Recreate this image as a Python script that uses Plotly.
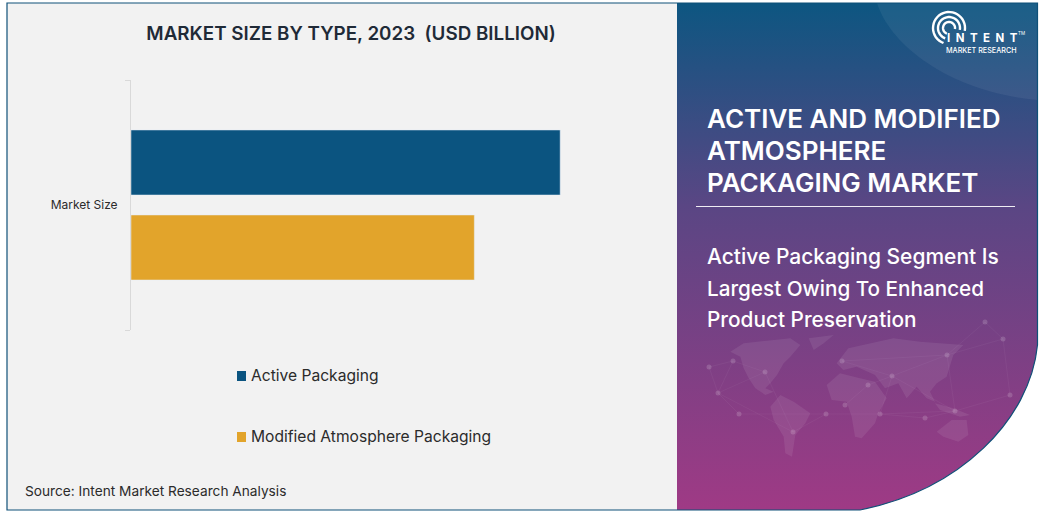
"""Market size by type chart with the Intent Market Research side panel."""

import math
import plotly.graph_objects as go

# data
CATEGORY = ["Market Size"]
TYPES = ["Active Packaging", "Modified Atmosphere Packaging"]
ACTIVE = [10.0]
MODIFIED = [8.0]
COLORS = ["#0B5480", "#E2A42B"]

W, H = 1043, 513
FONT = "Inter"
NAVY = "#0F5078"


def polygon(points):
    return "M" + "L".join(f"{x},{y}" for x, y in points) + "Z"


def zoomed(points, ox, oy):
    # outlines were traced on 3x crops of the panel
    return [(ox + x / 3, oy + y / 3) for x, y in points]


def arc(cx, cy, r, a0, a1):
    steps = 30
    pts = []
    for i in range(steps + 1):
        a = math.radians(a0 + (a1 - a0) * i / steps)
        pts.append(f"{cx + r * math.cos(a):.1f},{cy + r * math.sin(a):.1f}")
    return "M" + "L".join(pts)


def label(x, y, text, size, color="white", weight=400, anchor="left"):
    return dict(xref="x2", yref="y2", x=x, y=y, text=text, showarrow=False,
                xanchor=anchor, yanchor="middle",
                font=dict(family=FONT, size=size, color=color, weight=weight))


fig = go.Figure()
fig.add_trace(go.Bar(y=CATEGORY, x=ACTIVE, name=TYPES[0], orientation="h", marker_color=COLORS[0]))
fig.add_trace(go.Bar(y=CATEGORY, x=MODIFIED, name=TYPES[1], orientation="h", marker_color=COLORS[1]))

# gradient panel, on an overlay axis that counts in pixels
fig.add_trace(go.Scatter(
    x=[677, 1037, 1037, 677, 677], y=[3, 3, 510, 510, 3],
    xaxis="x2", yaxis="y2", mode="lines", line=dict(width=0), fill="toself",
    fillgradient=dict(type="vertical", colorscale=[[0, "#9F3A85"], [0.6, "#5A4684"], [1, "#0D5681"]]),
    hoverinfo="skip",
))

# network behind the map
NODES = [(709, 367), (733, 361), (718, 393), (739, 414), (826, 414), (793, 432), (765, 372),
         (842, 361), (892, 376), (880, 414), (955, 411), (1003, 339), (947, 355), (925, 418),
         (845, 405), (868, 385), (985, 322), (1010, 395)]
EDGES = [(0, 1), (1, 2), (2, 3), (3, 4), (4, 5), (1, 6), (6, 5), (2, 6), (4, 9), (7, 8), (8, 12),
         (12, 11), (8, 9), (9, 10), (10, 13), (12, 10), (7, 12), (14, 15), (15, 8), (9, 13),
         (8, 10), (11, 16), (12, 16), (11, 17), (10, 17), (0, 2), (2, 5)]
edge_x, edge_y = [], []
for a, b in EDGES:
    edge_x += [NODES[a][0], NODES[b][0], None]
    edge_y += [NODES[a][1], NODES[b][1], None]
fig.add_trace(go.Scatter(x=edge_x, y=edge_y, xaxis="x2", yaxis="y2", mode="lines",
                         line=dict(color="rgba(255,255,255,0.08)", width=0.6), hoverinfo="skip"))
fig.add_trace(go.Scatter(x=[n[0] for n in NODES], y=[n[1] for n in NODES], xaxis="x2", yaxis="y2",
                         mode="markers", marker=dict(size=5, color="rgba(255,255,255,0.16)"),
                         hoverinfo="skip"))

shapes = [
    # paper refs so this one stays under the bars
    dict(type="rect", xref="paper", yref="paper", x0=7 / W, x1=677 / W, y0=1 - 510 / H, y1=1 - 3 / H,
         fillcolor="#F2F2F2", line_width=0, layer="below"),
    # pale arc in the top corner
    dict(type="path", xref="x2", yref="y2", path="M877,3C890,45 950,92 1037,100L1037,3Z",
         fillcolor="rgba(255,255,255,0.06)", line_width=0),
    # white corner cut out of the panel
    dict(type="path", xref="x2", yref="y2", path="M1037.5,345C1030,420 960,490 860,510L1043,513L1043,345Z",
         fillcolor="white", line_width=0),
    dict(type="path", xref="x2", yref="y2", path="M1037.5,3L1037.5,345C1030,420 960,490 860,510L7,510L7,3Z",
         line=dict(color=NAVY, width=1.2)),
    dict(type="line", xref="x2", yref="y2", x0=696, x1=1015, y0=206.5, y1=206.5,
         line=dict(color="rgba(255,255,255,0.9)", width=1)),
    # legend swatches
    dict(type="rect", xref="x2", yref="y2", x0=237, x1=246, y0=371, y1=381, fillcolor=COLORS[0], line_width=0),
    dict(type="rect", xref="x2", yref="y2", x0=237, x1=246, y0=432, y1=442, fillcolor=COLORS[1], line_width=0),
]

# world map, rough outlines
LAND = [
    zoomed([(160, 95), (200, 70), (270, 62), (340, 55), (370, 75), (340, 110), (320, 130), (300, 165),
            (280, 190), (265, 205), (290, 215), (265, 225), (235, 205), (215, 175), (200, 145), (190, 110)], 677, 320),
    zoomed([(395, 55), (470, 45), (440, 70), (410, 90)], 677, 320),
    zoomed([(280, 260), (310, 225), (350, 245), (400, 280), (385, 310), (355, 345), (345, 410),
            (325, 400), (320, 350), (290, 300)], 677, 320),
    zoomed([(20, 195), (60, 160), (120, 175), (165, 185), (200, 235), (175, 280), (165, 310),
            (125, 355), (105, 350), (95, 290), (80, 245), (35, 240)], 820, 320),
    zoomed([(50, 130), (85, 85), (220, 55), (300, 65), (430, 75), (400, 105), (380, 170), (350, 190),
            (330, 215), (345, 245), (320, 235), (290, 200), (260, 235), (235, 190), (195, 205),
            (165, 165), (110, 140), (70, 150)], 820, 320),
    zoomed([(350, 335), (395, 300), (440, 300), (445, 345), (415, 365), (370, 350)], 820, 320),
    zoomed([(345, 250), (400, 265), (450, 285), (420, 290), (360, 270)], 820, 320),
]
for outline in LAND:
    shapes.append(dict(type="path", xref="x2", yref="y2", path=polygon(outline),
                       fillcolor="rgba(255,255,255,0.08)", line_width=0))

# logo arcs
for r in (6, 11, 16):
    shapes.append(dict(type="path", xref="x2", yref="y2", path=arc(949, 28, r, 110, 370),
                       line=dict(color="white", width=2.4)))

annotations = [
    label(249, 375, TYPES[0], 15.6, "#2B2B2B"),
    label(249, 436, TYPES[1], 15.6, "#2B2B2B"),
    label(23, 491, "Source: Intent Market Research Analysis", 13.7, "#2B2B2B"),
    label(705, 118, "ACTIVE AND MODIFIED", 26, weight=600),
    label(705, 150, "ATMOSPHERE", 26, weight=600),
    label(705, 182, "PACKAGING MARKET", 26, weight=600),
    label(705, 256, "Active Packaging Segment Is", 21, weight=500),
    label(705, 288, "Largest Owing To Enhanced", 20.7, weight=500),
    label(705, 319, "Product Preservation", 20.8, weight=500),
    label(945, 38, "I  N  T  E  N  T", 11.5, weight=700),
    label(944, 50, "MARKET RESEARCH", 7.2, weight=500),
    label(1016, 33, "TM", 4.5),
]

fig.update_layout(
    width=W, height=H,
    margin=dict(l=0, r=0, t=0, b=0),
    paper_bgcolor="white", plot_bgcolor="rgba(0,0,0,0)",
    font=dict(family=FONT, color="#2B2B2B"),
    showlegend=False,
    barmode="group", bargap=0.32, bargroupgap=0.235,
    title=dict(text="MARKET SIZE BY TYPE, 2023  (USD BILLION)", x=351 / W, xanchor="center",
               y=1 - 33 / H, yanchor="middle", font=dict(family=FONT, size=18.8, color="#1F2A37", weight=600)),
    xaxis=dict(domain=[131 / W, 646 / W], range=[0, 12], visible=False),
    yaxis=dict(domain=[1 - 330 / H, 1 - 80 / H], autorange="reversed", showline=True, linecolor="#D9D9D9",
               linewidth=1, ticks="outside", ticklen=5, tickcolor="#D9D9D9", tickson="boundaries",
               ticklabelstandoff=10, tickfont=dict(size=12, color="#2B2B2B"), showgrid=False),
    xaxis2=dict(domain=[0, 1], range=[0, W], visible=False, anchor="y2"),
    yaxis2=dict(domain=[0, 1], range=[H, 0], visible=False, anchor="x2"),
    shapes=shapes,
    annotations=annotations,
)

fig.write_html("out.html", config=dict(displayModeBar=False), post_script="document.body.style.margin='0';")
